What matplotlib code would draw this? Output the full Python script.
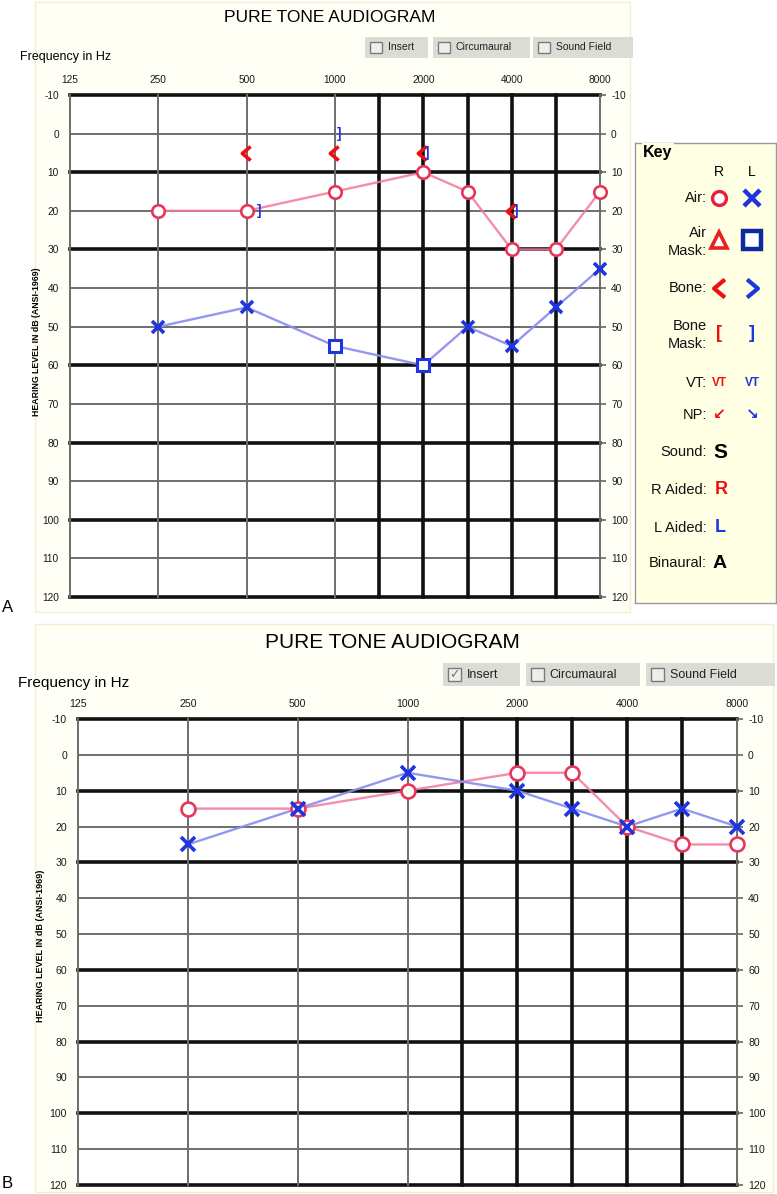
import numpy as np
import matplotlib
matplotlib.use("Agg")
import matplotlib.pyplot as plt
from matplotlib.patches import Rectangle
from matplotlib.path import Path
from matplotlib.ticker import NullLocator
from matplotlib.transforms import offset_copy

plt.rcParams["font.family"] = ["Liberation Sans", "DejaVu Sans"]

W, H = 777, 1194

# audiogram columns: octaves plus the half-octave lines
freqs = [125, 250, 500, 1000, 1500, 2000, 3000, 4000, 6000, 8000]
col_pos = [0, 1, 2, 3, 3.5, 4, 4.5, 5, 5.5, 6]
label_freqs = [125, 250, 500, 1000, 2000, 4000, 8000]
heavy_freqs = [1500, 2000, 3000, 4000, 6000]
levels = list(range(-10, 121, 10))
heavy_levels = [-10, 10, 30, 60, 80, 100, 120]

test_freqs = [250, 500, 1000, 2000, 3000, 4000, 6000, 8000]

# panel A
a_right_air = [20, 20, 15, 10, 15, 30, 30, 15]
a_left_air = [50, 45, 55, 60, 50, 55, 45, 35]
a_left_masked = [0, 0, 1, 1, 0, 0, 0, 0]
a_bone_freqs = [500, 1000, 2000, 4000]
a_right_bone = [5, 5, 5, 20]
a_left_bone_masked = [20, 0, 5, 20]

# panel B
b_right_air = [15, 15, 10, 5, 5, 20, 25, 25]
b_left_air = [25, 15, 5, 10, 15, 20, 15, 20]

RED = "#e8365a"
PINK = "#f07a9a"
BLUE = "#1f35e0"
LBLUE = "#8a8cee"
BONE_RED = "#ee1010"

# open chevrons for bone conduction
CHEV_L = Path([(0.6, 1), (-0.6, 0), (0.6, -1)])
CHEV_R = Path([(-0.6, 1), (0.6, 0), (-0.6, -1)])

log_f = np.log2(freqs)


def fwd(x):
    return np.interp(np.log2(np.clip(x, 1, None)), log_f, col_pos)


def inv(p):
    return 2 ** np.interp(p, col_pos, log_f)


fig = plt.figure(figsize=(W / 100, H / 100), dpi=100)

bg = fig.add_axes([0, 0, 1, 1], zorder=0)
bg.set_xlim(0, W)
bg.set_ylim(H, 0)
bg.axis("off")

# faint cream frames behind each panel
bg.add_patch(Rectangle((35, 2), 595, 610, fc="#fffff6", ec="#f3eed0", lw=1))
bg.add_patch(Rectangle((35, 624), 738, 568, fc="#fffff6", ec="#f3eed0", lw=1))


def checkbox(x0, x1, y0, y1, label, fs, checked=False):
    bg.add_patch(Rectangle((x0, y0), x1 - x0, y1 - y0, fc="#dcdcd6", ec="none"))
    s = (y1 - y0) * 0.55
    bx = x0 + 5
    by = (y0 + y1) / 2 - s / 2
    bg.add_patch(Rectangle((bx, by), s, s, fc="#eeeeea", ec="#7a7a7a", lw=1))
    if checked:
        bg.text(bx + s / 2, by + s / 2, "\u2713", family="DejaVu Sans",
                fontsize=fs, color="#777777", ha="center", va="center")
    bg.text(bx + s + 6, (y0 + y1) / 2, label, fontsize=fs, va="center",
            color="#222222")


def audiogram(rect, tick_fs):
    ax = fig.add_axes(rect, zorder=2)
    ax.set_xscale("function", functions=(fwd, inv))
    ax.set_xlim(125, 8000)
    ax.set_ylim(120, -10)
    for lv in levels:
        heavy = lv in heavy_levels
        ax.axhline(lv, color="#111111" if heavy else "#6e6e6e",
                   lw=2.6 if heavy else 1.4, zorder=1, clip_on=False)
    for f in freqs:
        heavy = f in heavy_freqs
        ax.axvline(f, color="#111111" if heavy else "#6e6e6e",
                   lw=2.6 if heavy else 1.4, zorder=1, clip_on=False)
    for s in ax.spines.values():
        s.set_visible(False)
    ax.xaxis.tick_top()
    ax.set_xticks(label_freqs, [str(f) for f in label_freqs])
    ax.xaxis.set_minor_locator(NullLocator())
    ax.tick_params(axis="x", length=0, pad=7, labelsize=tick_fs,
                   labelcolor="#1a1a1a")
    ax.set_yticks(levels, [str(v) for v in levels])
    ax.yaxis.set_minor_locator(NullLocator())
    ax.tick_params(axis="y", left=False, right=True, labelleft=True,
                   labelright=True, length=4, width=1.2, color="#666666",
                   labelsize=tick_fs, labelcolor="#1a1a1a", pad=4)
    return ax


def air(ax, right, left, masked, ms):
    ax.plot(test_freqs, right, color=PINK, lw=1.7, alpha=0.85, zorder=3,
            clip_on=False)
    ax.plot(test_freqs, left, color=LBLUE, lw=1.7, alpha=0.9, zorder=3,
            clip_on=False)
    ax.plot(test_freqs, right, "o", ms=ms, mfc="white", mec=RED, mew=1.9,
            zorder=4, clip_on=False)
    fx = [f for f, m in zip(test_freqs, masked) if not m]
    vx = [v for v, m in zip(left, masked) if not m]
    ax.plot(fx, vx, "x", ms=ms, mec=BLUE, mew=2.6, zorder=5, clip_on=False)
    fs_ = [f for f, m in zip(test_freqs, masked) if m]
    vs_ = [v for v, m in zip(left, masked) if m]
    if fs_:
        ax.plot(fs_, vs_, "s", ms=ms * 0.95, mfc="white", mec=BLUE, mew=2.2,
                zorder=5, clip_on=False)


# ---- panel A ----
axA = audiogram([70 / W, 1 - 597 / H, 530 / W, 502 / H], 7.3)
air(axA, a_right_air, a_left_air, a_left_masked, 9)

left_shift = offset_copy(axA.transData, fig=fig, x=-1, y=0, units="dots")
axA.plot(a_bone_freqs, a_right_bone, ls="none", marker=CHEV_L, ms=10,
         mfc="none", mec=BONE_RED, mew=2.6, transform=left_shift, zorder=6)
for f, v in zip(a_bone_freqs, a_left_bone_masked):
    on_circle = a_right_air[test_freqs.index(f)] == v
    tr = offset_copy(axA.transData, fig=fig, x=12 if on_circle else 4, y=0,
                     units="dots")
    axA.text(f, v, "]", transform=tr, color=BLUE, fontsize=10,
             fontweight="bold", ha="center", va="center", zorder=7)

bg.text(330, 17, "PURE TONE AUDIOGRAM", fontsize=12.5, ha="center",
        va="center")
bg.text(20, 57, "Frequency in Hz", fontsize=9, va="center")
checkbox(365, 428, 37, 58, "Insert", 7.5)
checkbox(433, 530, 37, 58, "Circumaural", 7.5)
checkbox(533, 633, 37, 58, "Sound Field", 7.5)
bg.text(37, 342, "HEARING LEVEL IN dB (ANSI-1969)", rotation=90,
        fontsize=6.3, fontweight="bold", ha="center", va="center")
bg.text(2, 607, "A", fontsize=12, va="center")

# ---- panel B ----
axB = audiogram([78 / W, 1 - 1185 / H, 659 / W, 466 / H], 7.6)
air(axB, b_right_air, b_left_air, [0] * len(test_freqs), 10)

bg.text(392, 643, "PURE TONE AUDIOGRAM", fontsize=15, ha="center",
        va="center")
bg.text(18, 683, "Frequency in Hz", fontsize=11, va="center")
checkbox(443, 520, 663, 686, "Insert", 9, checked=True)
checkbox(526, 640, 663, 686, "Circumaural", 9)
checkbox(646, 775, 663, 686, "Sound Field", 9)
bg.text(41, 946, "HEARING LEVEL IN dB (ANSI-1969)", rotation=90,
        fontsize=6.5, fontweight="bold", ha="center", va="center")
bg.text(2, 1183, "B", fontsize=12, va="center")

# ---- key ----
kx = fig.add_axes([635 / W, 1 - 603 / H, 141 / W, 460 / H], zorder=3)
kx.set_xlim(635, 776)
kx.set_ylim(603, 143)
kx.set_facecolor("#ffffe4")
kx.set_xticks([])
kx.set_yticks([])
for s in kx.spines.values():
    s.set_color("#9a9a9a")
    s.set_linewidth(1)
kx.text(643, 152, "Key", fontsize=11.5, fontweight="bold", va="center",
        bbox=dict(fc="#ffffe4", ec="none", pad=1), clip_on=False)
kx.text(719, 172, "R", fontsize=10, ha="center", va="center")
kx.text(752, 172, "L", fontsize=10, ha="center", va="center")

rows = [("Air:", 198), ("Air\nMask:", 242), ("Bone:", 288),
        ("Bone\nMask:", 335), ("VT:", 383), ("NP:", 415), ("Sound:", 452),
        ("R Aided:", 490), ("L Aided:", 528), ("Binaural:", 563)]
for lab, y in rows:
    kx.text(707, y, lab, fontsize=10.5, ha="right", va="center",
            linespacing=1.3, color="#111111")

kx.plot(719, 198, "o", ms=10, mfc="white", mec="#e8203c", mew=2.4)
kx.plot(752, 198, "x", ms=11, mec=BLUE, mew=3.2)
kx.plot(719, 240, "^", ms=11, mfc="white", mec="#e82020", mew=2.6)
kx.plot(752, 240, "s", ms=13, mfc="white", mec="#10289e", mew=3.2)
kx.plot(719, 288, ls="none", marker=CHEV_L, ms=13, mfc="none",
        mec=BONE_RED, mew=3)
kx.plot(752, 288, ls="none", marker=CHEV_R, ms=13, mfc="none", mec=BLUE,
        mew=3)
sym = dict(ha="center", va="center", fontweight="bold")
kx.text(719, 333, "[", color=BONE_RED, fontsize=13, **sym)
kx.text(752, 333, "]", color=BLUE, fontsize=13, **sym)
kx.text(719, 383, "VT", color=BONE_RED, fontsize=8.5, **sym)
kx.text(752, 383, "VT", color=BLUE, fontsize=8.5, **sym)
kx.text(719, 415, "\u2199", color=BONE_RED, fontsize=11,
        family="DejaVu Sans", **sym)
kx.text(752, 415, "\u2198", color=BLUE, fontsize=11, family="DejaVu Sans",
        **sym)
kx.text(720, 453, "S", color="black", fontsize=15, **sym)
kx.text(721, 490, "R", color=BONE_RED, fontsize=13, **sym)
kx.text(720, 528, "L", color=BLUE, fontsize=13, **sym)
kx.text(720, 564, "A", color="black", fontsize=14, **sym)

fig.savefig("out.png", dpi=100, facecolor="white")
